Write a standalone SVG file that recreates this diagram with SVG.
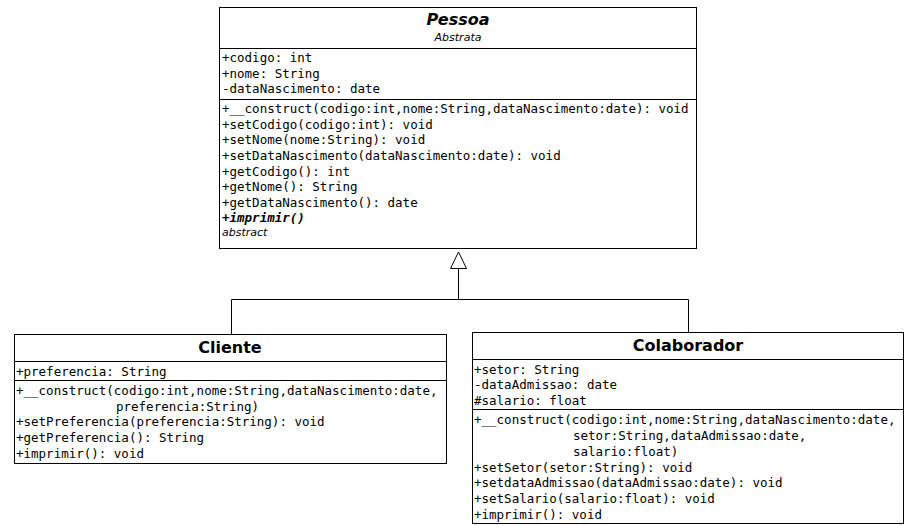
<svg xmlns="http://www.w3.org/2000/svg" width="910" height="526" viewBox="0 0 910 526">
<style>
.box{fill:#fff;stroke:#000;stroke-width:1}
.ln{stroke:#000;stroke-width:1;fill:none}
.m{font-family:"DejaVu Sans Mono",monospace;font-size:12.5px;fill:#000}
.t{font-family:"DejaVu Sans",sans-serif;font-size:16px;font-weight:bold;text-anchor:middle;fill:#000}
.s{font-family:"DejaVu Sans",sans-serif;font-size:11px;font-style:italic;fill:#000}
</style>
<rect width="910" height="526" fill="#fff"/>
<g id="connectors">
<polyline class="ln" points="231.5,334 231.5,299.5 688.5,299.5 688.5,332"/>
<line class="ln" x1="458.5" y1="299.5" x2="458.5" y2="268"/>
<polygon points="458.5,252 450.5,268.5 466.5,268.5" fill="#fff" stroke="#000"/>
</g>
<g id="Pessoa">
<rect class="box" x="219.5" y="7.5" width="477" height="241"/>
<line class="ln" x1="219.5" y1="48.5" x2="696.5" y2="48.5"/>
<line class="ln" x1="219.5" y1="99.5" x2="696.5" y2="99.5"/>
<text class="t" x="458" y="25" font-style="italic">Pessoa</text>
<text class="s" x="458" y="41" text-anchor="middle">Abstrata</text>
<text class="m" x="222" y="62">+codigo: int</text>
<text class="m" x="222" y="78">+nome: String</text>
<text class="m" x="222" y="93">-dataNascimento: date</text>
<text class="m" x="222" y="113">+__construct(codigo:int,nome:String,dataNascimento:date): void</text>
<text class="m" x="222" y="129">+setCodigo(codigo:int): void</text>
<text class="m" x="222" y="144">+setNome(nome:String): void</text>
<text class="m" x="222" y="160">+setDataNascimento(dataNascimento:date): void</text>
<text class="m" x="222" y="176">+getCodigo(): int</text>
<text class="m" x="222" y="191">+getNome(): String</text>
<text class="m" x="222" y="207">+getDataNascimento(): date</text>
<text class="m" x="222" y="222" font-weight="bold" font-style="italic">+imprimir()</text>
<text class="s" x="222" y="236">abstract</text>
</g>
<g id="Cliente">
<rect class="box" x="14.5" y="334.5" width="432" height="129"/>
<line class="ln" x1="14.5" y1="361.5" x2="446.5" y2="361.5"/>
<line class="ln" x1="14.5" y1="380.5" x2="446.5" y2="380.5"/>
<text class="t" x="230" y="353">Cliente</text>
<text class="m" x="16" y="376">+preferencia: String</text>
<text class="m" x="16" y="395">+__construct(codigo:int,nome:String,dataNascimento:date,</text>
<text class="m" x="116" y="411">preferencia:String)</text>
<text class="m" x="16" y="426">+setPreferencia(preferencia:String): void</text>
<text class="m" x="16" y="442">+getPreferencia(): String</text>
<text class="m" x="16" y="458">+imprimir(): void</text>
</g>
<g id="Colaborador">
<rect class="box" x="472.5" y="332.5" width="431" height="191"/>
<line class="ln" x1="472.5" y1="359.5" x2="903.5" y2="359.5"/>
<line class="ln" x1="472.5" y1="409.5" x2="903.5" y2="409.5"/>
<text class="t" x="688" y="351">Colaborador</text>
<text class="m" x="474" y="374">+setor: String</text>
<text class="m" x="474" y="389">-dataAdmissao: date</text>
<text class="m" x="474" y="405">#salario: float</text>
<text class="m" x="474" y="424">+__construct(codigo:int,nome:String,dataNascimento:date,</text>
<text class="m" x="573" y="440">setor:String,dataAdmissao:date,</text>
<text class="m" x="573" y="456">salario:float)</text>
<text class="m" x="474" y="472">+setSetor(setor:String): void</text>
<text class="m" x="474" y="487">+setdataAdmissao(dataAdmissao:date): void</text>
<text class="m" x="474" y="503">+setSalario(salario:float): void</text>
<text class="m" x="474" y="519">+imprimir(): void</text>
</g>
</svg>
